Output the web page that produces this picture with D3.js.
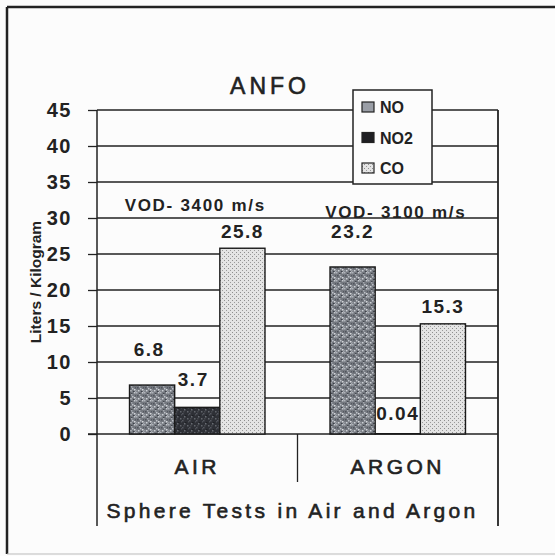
<!DOCTYPE html>
<html><head><meta charset="utf-8">
<script src="https://cdn.jsdelivr.net/npm/d3@7"></script>
<style>
html,body{margin:0;padding:0;background:#fcfcfc;}
svg{display:block;font-family:"Liberation Sans",Arial,sans-serif;}
</style></head>
<body>
<svg id="c" width="555" height="556"></svg>
<script>
const categories = ["AIR", "ARGON"];
const series = ["NO", "NO2", "CO"];
const valuesNO  = [6.8, 23.2];
const valuesNO2 = [3.7, 0.04];
const valuesCO  = [25.8, 15.3];
const valueLabels = [["6.8","3.7","25.8"],["23.2","0.04","15.3"]];
// where each value label sits, in data units
const labelAnchorNO  = [10.8, 27.2];
const labelAnchorNO2 = [6.6, 2.0];
const labelAnchorCO  = [27.2, 16.8];
const vodLabels = ["VOD- 3400 m/s", "VOD- 3100 m/s"];
const vodAnchor = [31.0, 30.0];
const yTicks = [0,5,10,15,20,25,30,35,40,45];
const title = "ANFO";
const yTitle = "Liters / Kilogram";
const xTitle = "Sphere Tests in Air and Argon";

const svg = d3.select("#c");
const defs = svg.append("defs");

function speckle(id, bg, dots, size, r){
  const p = defs.append("pattern").attr("id", id).attr("patternUnits","userSpaceOnUse")
    .attr("width", size).attr("height", size);
  p.append("rect").attr("width", size).attr("height", size).attr("fill", bg);
  dots.forEach(d => p.append("rect").attr("x", d[0]).attr("y", d[1]).attr("width", r).attr("height", r).attr("fill", d[2]));
}
speckle("pNO", "#74787f", [
  [0,0,"#b0b4bb"],[3,1,"#44484f"],[6,0,"#c6c9ce"],[1,3,"#50545c"],[4,4,"#bcc0c6"],[7,3,"#565a62"],
  [2,6,"#ccd0d5"],[5,7,"#40444c"],[0,6,"#93979e"],[6,5,"#d4d6da"],[3,2,"#a4a8af"],[7,7,"#a6aab0"]
], 8, 1.5);
speckle("pNO2", "#2e3036", [
  [0,0,"#55585f"],[3,2,"#1e2024"],[5,5,"#62656c"],[1,5,"#45484e"],[6,1,"#4c4f56"],[2,3,"#6a6d74"]
], 7, 1.5);
speckle("pCO", "#e4e4e4", [
  [0,0,"#8e8e8e"],[2,2,"#9a9a9a"]
], 4, 1);

const x0 = 97, x1 = 498, yTop = 110, yZero = 434, yBottom = 526;
const y = d3.scaleLinear().domain([0,45]).range([yZero, yTop]);
const xCat = d3.scaleBand().domain(categories).range([x0, x1]).paddingInner(0).paddingOuter(0);
const xSer = d3.scaleBand().domain(series).range([0, xCat.bandwidth()]).paddingOuter(0.72).paddingInner(0);

// outer frame
svg.append("line").attr("x1",7).attr("x2",555).attr("y1",7).attr("y2",7).attr("stroke","#222").attr("stroke-width",2.5);
svg.append("line").attr("x1",7).attr("x2",7).attr("y1",7).attr("y2",554).attr("stroke","#222").attr("stroke-width",2.5);
svg.append("line").attr("x1",7).attr("x2",555).attr("y1",554).attr("y2",554).attr("stroke","#bbb").attr("stroke-width",1);

// gridlines
svg.append("g").selectAll("line").data(yTicks.filter(t=>t>0)).join("line")
  .attr("x1", x0).attr("x2", x1).attr("y1", d=>y(d)).attr("y2", d=>y(d))
  .attr("stroke","#222").attr("stroke-width",1.3);

// y axis
const yAxis = d3.axisLeft(y).tickValues(yTicks).tickSize(9).tickPadding(16).tickFormat(d3.format("d"));
const ga = svg.append("g").attr("transform",`translate(${x0},0)`).call(yAxis);
ga.select(".domain").remove();
ga.selectAll(".tick line").attr("stroke","#222").attr("stroke-width",1.3);
ga.selectAll(".tick text").attr("font-size",20).attr("font-weight","bold").attr("fill","#222")
  .style("letter-spacing","1.5px")
  .attr("font-family","'Liberation Sans',Arial,sans-serif");

// frame lines of plot
svg.append("line").attr("x1",x0).attr("x2",x0).attr("y1",yTop).attr("y2",yBottom).attr("stroke","#222").attr("stroke-width",1.5);
svg.append("line").attr("x1",x1).attr("x2",x1).attr("y1",yTop).attr("y2",yBottom).attr("stroke","#222").attr("stroke-width",1.8);
svg.append("line").attr("x1",88).attr("x2",x1).attr("y1",yZero).attr("y2",yZero).attr("stroke","#222").attr("stroke-width",1.5);
svg.append("line").attr("x1",xCat("ARGON")).attr("x2",xCat("ARGON")).attr("y1",yZero).attr("y2",482).attr("stroke","#222").attr("stroke-width",1.3);

// bars
const fills = {NO:"url(#pNO)", NO2:"url(#pNO2)", CO:"url(#pCO)"};
const vals = {NO:valuesNO, NO2:valuesNO2, CO:valuesCO};
const anchors = {NO:labelAnchorNO, NO2:labelAnchorNO2, CO:labelAnchorCO};
const rows = [];
categories.forEach((c,i)=>series.forEach((s,j)=>rows.push({c, s, v: vals[s][i], lab: valueLabels[i][j], a: anchors[s][i]})));

svg.append("g").selectAll("rect").data(rows).join("rect")
  .attr("x", d=>xCat(d.c)+xSer(d.s))
  .attr("width", xSer.bandwidth())
  .attr("y", d=>y(d.v))
  .attr("height", d=>yZero - y(d.v))
  .attr("fill", d=>fills[d.s])
  .attr("stroke","#1a1a1a").attr("stroke-width",1.4);

// value labels
svg.append("g").selectAll("text").data(rows).join("text")
  .attr("x", d=>xCat(d.c)+xSer(d.s)+xSer.bandwidth()/2 - (d.s==="NO2" && d.c==="AIR" ? 4 : 0) - (d.s==="NO" && d.c==="AIR" ? 3 : 0))
  .attr("y", d=>y(d.a))
  .attr("text-anchor","middle")
  .attr("font-size",19).attr("font-weight","bold").attr("fill","#222")
  .style("letter-spacing","1.5px")
  .text(d=>d.lab);

// VOD labels
svg.append("g").selectAll("text").data(vodLabels).join("text")
  .attr("x", (d,i)=>xCat(categories[i])+xCat.bandwidth()/2 - 2)
  .attr("y", (d,i)=>y(vodAnchor[i]))
  .attr("text-anchor","middle").attr("font-size",17).attr("font-weight","bold").attr("fill","#222")
  .style("letter-spacing","1.7px")
  .text(d=>d);

// category labels
svg.append("g").selectAll("text").data(categories).join("text")
  .attr("x", d=>xCat(d)+xCat.bandwidth()/2)
  .attr("y", 474)
  .attr("text-anchor","middle").attr("font-size",21).attr("fill","#222")
  .attr("stroke","#222").attr("stroke-width",0.6)
  .style("letter-spacing","3.5px")
  .text(d=>d);

// x title
svg.append("text").attr("x",(x0+x1)/2 - 5).attr("y",518).attr("text-anchor","middle")
  .attr("font-size",21).attr("fill","#222").attr("stroke","#222").attr("stroke-width",0.6)
  .style("letter-spacing","3.3px").text(xTitle);

// y title
svg.append("text").attr("transform","translate(41,282) rotate(-90)").attr("text-anchor","middle")
  .attr("font-size",15.5).attr("font-weight","bold").attr("fill","#222").text(yTitle);

// chart title
svg.append("text").attr("x",270).attr("y",94).attr("text-anchor","middle")
  .attr("font-size",23).attr("fill","#222").attr("stroke","#222").attr("stroke-width",0.6)
  .style("letter-spacing","4px").text(title);

// legend
const lg = svg.append("g");
lg.append("rect").attr("x",353).attr("y",90).attr("width",79).attr("height",94)
  .attr("fill","#fcfcfc").attr("stroke","#222").attr("stroke-width",1.5);
const legFills = {NO:"#9a9ea6", NO2:"#1e1e22", CO:"url(#pCO)"};
const legY = d3.scalePoint().domain(series).range([107, 168]);
lg.selectAll("rect.sw").data(series).join("rect").attr("class","sw")
  .attr("x",362).attr("y",d=>legY(d)-5).attr("width",12).attr("height",10)
  .attr("fill",d=>legFills[d]).attr("stroke","#222").attr("stroke-width",1.2);
lg.selectAll("text").data(series).join("text")
  .attr("x",380).attr("y",d=>legY(d)+6)
  .attr("font-size",16).attr("font-weight","bold").attr("fill","#222").text(d=>d);
</script>
</body></html>
